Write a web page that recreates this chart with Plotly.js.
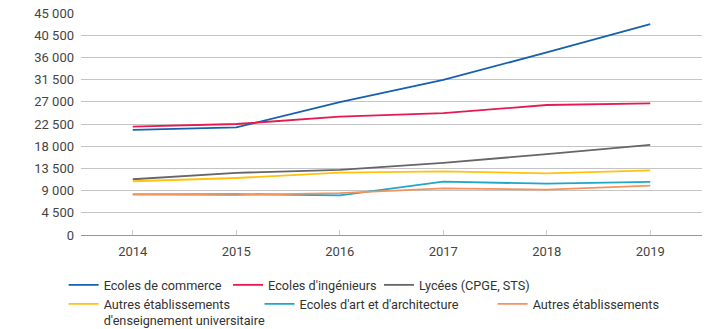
<!DOCTYPE html>
<html>
<head>
<meta charset="utf-8">
<script src="https://cdn.plot.ly/plotly-3.0.1.min.js"></script>
<style>html,body{margin:0;padding:0;background:#fff;}</style>
</head>
<body>
<div id="chart" style="width:715px;height:329px;"></div>
<script>
const years = ["2014", "2015", "2016", "2017", "2018", "2019"];
const seriesNames = ["Ecoles de commerce", "Ecoles d'ingénieurs", "Lycées (CPGE, STS)",
  "Autres établissements<br>d'enseignement universitaire", "Ecoles d'art et d'architecture", "Autres établissements"];
const commerce = [21300, 21800, 26950, 31450, 37000, 42750];
const ingenieurs = [21950, 22500, 24000, 24700, 26350, 26700];
const lycees = [11300, 12600, 13200, 14600, 16400, 18250];
const autresUniv = [10900, 11550, 12650, 12900, 12500, 13100];
const artArchi = [8250, 8300, 8050, 10800, 10400, 10750];
const autres = [8250, 8100, 8500, 9450, 9200, 10000];
const yTickVals = [0, 4500, 9000, 13500, 18000, 22500, 27000, 31500, 36000, 40500, 45000];
const yTickText = ["0", "4 500", "9 000", "13 500", "18 000", "22 500", "27 000", "31 500", "36 000", "40 500", "45 000"];

const colors = ["#1660b0", "#e8194f", "#666666", "#ffc20e", "#1fa6c9", "#f4935e"];
const allValues = [commerce, ingenieurs, lycees, autresUniv, artArchi, autres];
const legendIds = ["legend", "legend2", "legend3", "legend4", "legend5", "legend6"];

const traces = allValues.map((vals, i) => ({
  x: years, y: vals, type: "scatter", mode: "lines",
  name: seriesNames[i], line: {color: colors[i], width: 1.8},
  legend: legendIds[i], hoverinfo: "skip"
}));

const fontFam = "Roboto, 'Open Sans', sans-serif";
function leg(x, y) {
  return {
    orientation: "h", xref: "container", yref: "container",
    x: x, xanchor: "left", y: y, yanchor: "top",
    font: {family: fontFam, size: 12.7, color: "#333"}, bgcolor: "rgba(0,0,0,0)",
    valign: "top", tracegroupgap: 0
  };
}
const row1Y = 0.179, row2Y = 0.1215;
const layout = {
  width: 715, height: 329,
  margin: {l: 81, r: 13, t: 13, b: 94},
  paper_bgcolor: "#fff", plot_bgcolor: "#fff",
  font: {family: fontFam, size: 13, color: "#444"},
  showlegend: true,
  xaxis: {
    type: "category", range: [-0.5, 5.5],
    showgrid: false, zeroline: false,
    showline: true, linecolor: "#999", linewidth: 1,
    ticks: "inside", ticklen: 5, tickcolor: "#ccc", tickwidth: 1,
    tickfont: {family: fontFam, size: 13, color: "#444"},
    ticklabelstandoff: 4
  },
  yaxis: {
    range: [0, 45000], tickvals: yTickVals, ticktext: yTickText,
    showgrid: true, gridcolor: "#c4c4c4", gridwidth: 1,
    zeroline: false, showline: false, ticks: "",
    tickfont: {family: fontFam, size: 13, color: "#444"},
    ticklabelstandoff: 6
  },
  legend: leg(0.089, row1Y),
  legend2: leg(0.319, row1Y),
  legend3: leg(0.530, row1Y),
  legend4: leg(0.089, row2Y),
  legend5: leg(0.363, row2Y),
  legend6: leg(0.689, row2Y)
};

Plotly.newPlot("chart", traces, layout, {displayModeBar: false, staticPlot: true});
</script>
</body>
</html>
